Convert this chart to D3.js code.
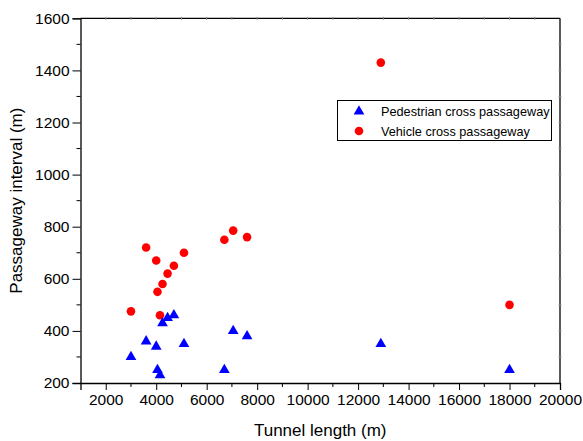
<!DOCTYPE html>
<html>
<head>
<meta charset="utf-8">
<script src="https://cdn.jsdelivr.net/npm/d3@7"></script>
<style>
  body { margin: 0; background: #fff; }
  text { font-family: "Liberation Sans", Arial, sans-serif; }
</style>
</head>
<body>
<div class="scatter"></div>
<script>
  // tunnel length (m), shared by both series
  const tunnelLength = [3000, 3600, 4000, 4050, 4150, 4250, 4450, 4700, 5100, 6700, 7050, 7600, 12900, 18000];
  const pedestrianInterval = [300, 360, 340, 250, 230, 430, 450, 460, 350, 250, 400, 380, 350, 250];
  const vehicleInterval = [475, 720, 670, 550, 460, 580, 620, 650, 700, 750, 785, 760, 1430, 500];

  const xTicks = [2000, 4000, 6000, 8000, 10000, 12000, 14000, 16000, 18000, 20000];
  const yTicks = [200, 400, 600, 800, 1000, 1200, 1400, 1600];
  const seriesNames = ["Pedestrian cross passageway", "Vehicle cross passageway"];

  const width = 583;
  const height = 441;

  const svg = d3.select('.scatter')
    .append("svg")
    .attr("width", width)
    .attr("height", height);

  const x = d3.scaleLinear()
    .domain([1000, 20000])
    .range([80.5, 560]);

  const y = d3.scaleLinear()
    .domain([200, 1600])
    .range([383, 18.3]);

  const xMinor = d3.range(3000, 20000, 2000);
  const yMinor = d3.range(300, 1600, 200);

  // bottom axis
  const gx = svg.append("g")
    .attr("transform", "translate(0," + y(200) + ")")
    .call(d3.axisBottom(x).tickValues(xTicks).tickSize(7).tickPadding(4).tickFormat(d3.format("d")));
  gx.selectAll("text").attr("font-size", "15.5px").attr("fill", "#000");
  gx.append("g").selectAll("line")
    .data(xMinor)
    .enter()
    .append("line")
    .attr("x1", d => x(d)).attr("x2", d => x(d))
    .attr("y1", 0).attr("y2", 4)
    .attr("stroke", "#000");

  // left axis
  const gy = svg.append("g")
    .attr("transform", "translate(" + x(1000) + ",0)")
    .call(d3.axisLeft(y).tickValues(yTicks).tickSize(8).tickPadding(3).tickFormat(d3.format("d")));
  gy.selectAll("text").attr("font-size", "15.5px").attr("fill", "#000");
  gy.append("g").selectAll("line")
    .data(yMinor)
    .enter()
    .append("line")
    .attr("x1", 0).attr("x2", -4)
    .attr("y1", d => y(d)).attr("y2", d => y(d))
    .attr("stroke", "#000");

  svg.selectAll(".domain").attr("stroke", "#000").attr("stroke-width", 1.3);
  svg.selectAll(".tick line").attr("stroke", "#000");

  // top and right frame with tiny ticks
  svg.append("line")
    .attr("x1", x(1000)).attr("x2", x(20000))
    .attr("y1", y(1600)).attr("y2", y(1600))
    .attr("stroke", "#000").attr("stroke-width", 1.3);
  svg.append("line")
    .attr("x1", x(20000)).attr("x2", x(20000))
    .attr("y1", y(1600)).attr("y2", y(200))
    .attr("stroke", "#000").attr("stroke-width", 1.3);
  svg.append("g").selectAll("line")
    .data(d3.range(2000, 20000, 1000))
    .enter()
    .append("line")
    .attr("x1", d => x(d)).attr("x2", d => x(d))
    .attr("y1", y(1600) - 1.5).attr("y2", y(1600) + 1.5)
    .attr("stroke", "#888");
  svg.append("g").selectAll("line")
    .data(d3.range(300, 1600, 100))
    .enter()
    .append("line")
    .attr("x1", x(20000) - 1.5).attr("x2", x(20000) + 1.5)
    .attr("y1", d => y(d)).attr("y2", d => y(d))
    .attr("stroke", "#888");

  // axis titles
  svg.append("text")
    .attr("x", (x(1000) + x(20000)) / 2)
    .attr("y", 436)
    .attr("text-anchor", "middle")
    .attr("font-size", "17px")
    .text("Tunnel length (m)");

  svg.append("text")
    .attr("transform", "translate(22," + ((y(200) + y(1600)) / 2) + ") rotate(-90)")
    .attr("text-anchor", "middle")
    .attr("font-size", "17px")
    .text("Passageway interval (m)");

  // points
  const tri = d3.symbol().type(d3.symbolTriangle).size(50);

  svg.append("g").selectAll("circle")
    .data(tunnelLength)
    .enter()
    .append("circle")
    .attr("cx", d => x(d))
    .attr("cy", (d, i) => y(vehicleInterval[i]))
    .attr("r", 4.3)
    .style("fill", "#ff0000");

  svg.append("g").selectAll("path")
    .data(tunnelLength)
    .enter()
    .append("path")
    .attr("d", tri)
    .attr("transform", (d, i) => "translate(" + x(d) + "," + y(pedestrianInterval[i]) + ")")
    .style("fill", "#0000ff");

  // legend
  const legend = svg.append("g");
  legend.append("rect")
    .attr("x", 337.5).attr("y", 100.5)
    .attr("width", 214).attr("height", 40)
    .attr("fill", "#fff")
    .attr("stroke", "#000")
    .attr("stroke-width", 1);
  legend.append("path")
    .attr("d", tri)
    .attr("transform", "translate(359,111.5)")
    .style("fill", "#0000ff");
  legend.append("circle")
    .attr("cx", 359).attr("cy", 131)
    .attr("r", 4.3)
    .style("fill", "#ff0000");
  legend.selectAll(".legend-label")
    .data(seriesNames)
    .enter()
    .append("text")
    .attr("class", "legend-label")
    .attr("x", 381)
    .attr("y", (d, i) => 116 + i * 19.5)
    .attr("font-size", "12.7px")
    .attr("fill", "#000")
    .text(d => d);
</script>
</body>
</html>
